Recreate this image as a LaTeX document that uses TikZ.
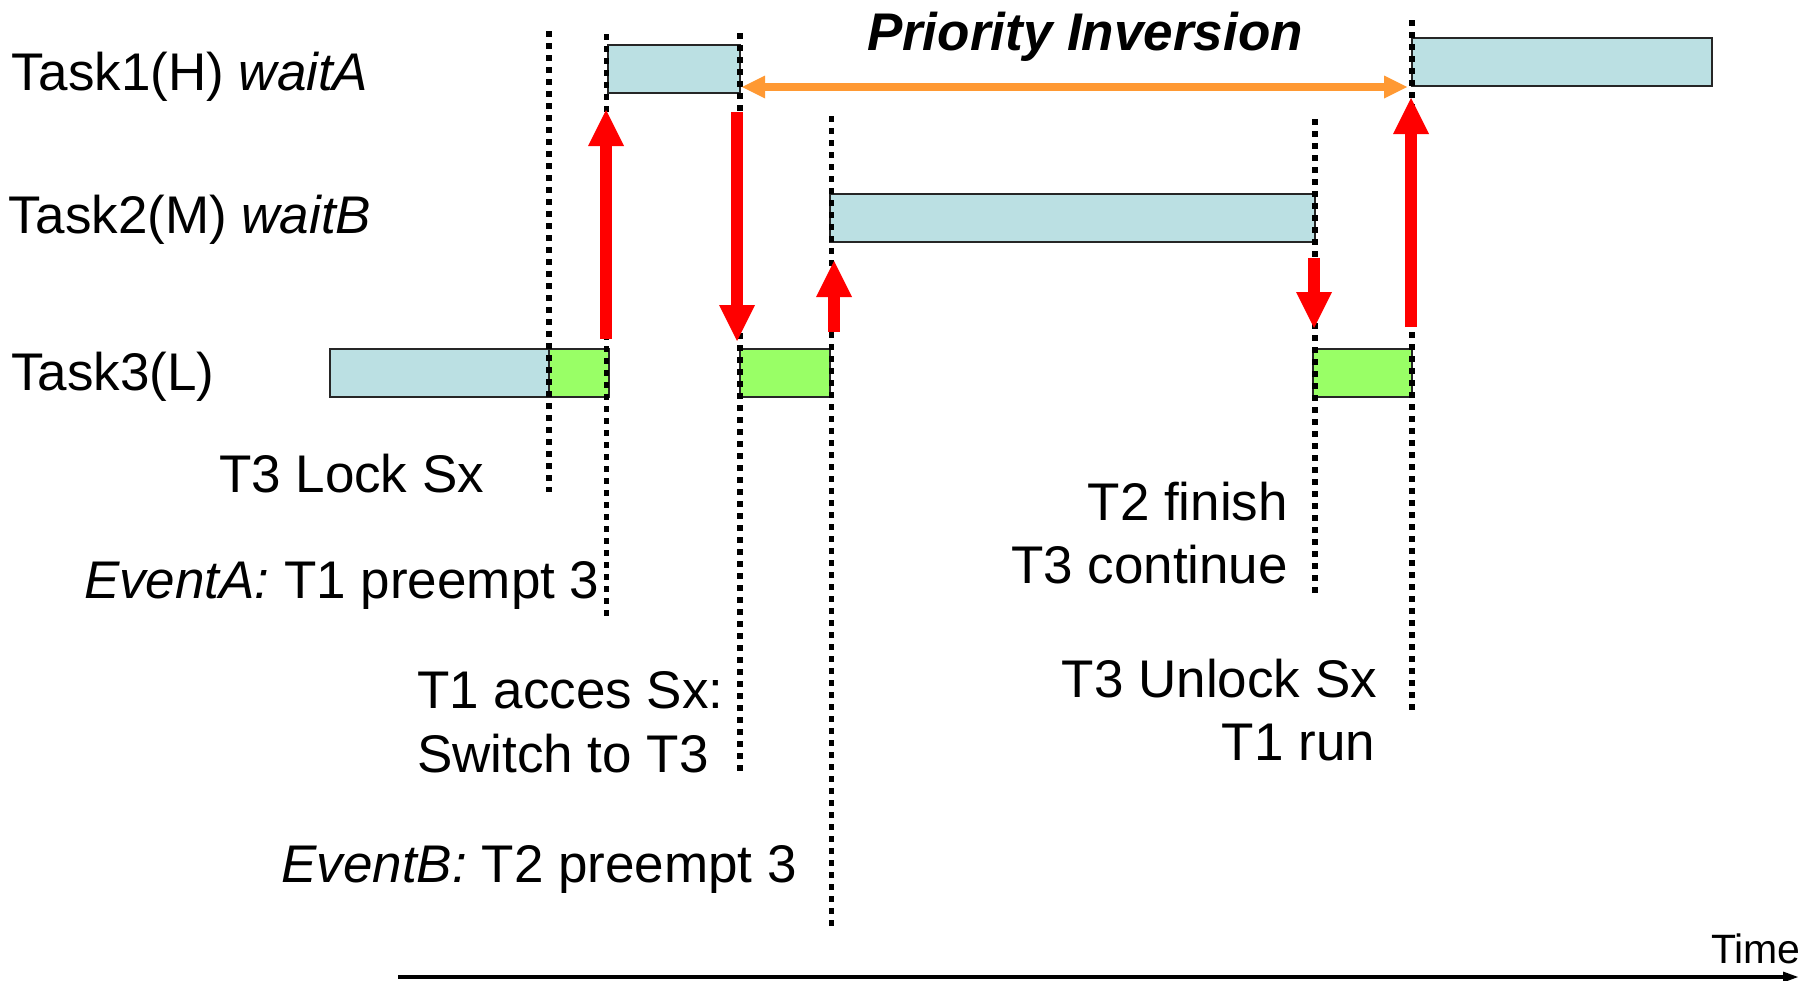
\documentclass[tikz,border=0pt]{standalone}
\usepackage{fontspec}
\setmainfont{Liberation Sans}
\usetikzlibrary{arrows.meta}
\definecolor{taskblue}{RGB}{187,224,227}
\definecolor{lockgreen}{RGB}{153,255,102}
\definecolor{invorange}{RGB}{255,153,51}
\definecolor{switchred}{RGB}{255,0,0}

\begin{document}
\begin{tikzpicture}[x=1pt,y=-1pt,
  slot/.style={draw=black!85, line width=2pt, inner sep=0pt, outer sep=0pt,
    anchor=north west, minimum height=48pt},
  run/.style={slot, fill=taskblue},
  crit/.style={slot, fill=lockgreen},
  evline/.style={line width=5.8pt, dash pattern=on 5.8pt off 6.2pt},
  switch/.style={draw=switchred, line width=12pt,
    -{Triangle[length=36pt,width=36pt,line width=0pt]}},
  inversion/.style={draw=invorange, line width=8pt,
    {Triangle[length=23pt,width=23pt,line width=0pt]}-{Triangle[length=23pt,width=23pt,line width=0pt]}},
  timeaxis/.style={draw=black, line width=4pt,
    -{Triangle[length=15pt,width=11pt,line width=0pt]}},
  lbl/.style={inner sep=0pt, outer sep=0pt, font=\fontsize{53pt}{63pt}\selectfont},
]
\useasboundingbox (0,0) rectangle (1807,980);

% execution slots
\node[run,  minimum width=132pt] (t1a) at (608,45) {};
\node[run,  minimum width=300pt] (t1b) at (1412,38) {};
\node[run,  minimum width=485pt] (t2)  at (830,194) {};
\node[run,  minimum width=219pt] (t3a) at (330,349) {};
\node[crit, minimum width=60pt]  (g1)  at (549,349) {};
\node[crit, minimum width=90pt]  (g2)  at (740,349) {};
\node[crit, minimum width=99pt]  (g3)  at (1313,349) {};

% event instants
\coordinate (l1a) at (549,31);    \coordinate (l1b) at (549,492);
\coordinate (l2a) at (606.5,34);  \coordinate (l2b) at (606.5,620);
\coordinate (l3a) at (740,33);    \coordinate (l3b) at (740,774);
\coordinate (l4a) at (831.5,116); \coordinate (l4b) at (831.5,930);
\coordinate (l5a) at (1315,119);  \coordinate (l5b) at (1315,594);
\coordinate (l6a) at (1412,20);   \coordinate (l6b) at (1412,713);
\foreach \i in {1,...,6} \draw[evline] (l\i a) -- (l\i b);

% context switches
\coordinate (s1a) at (606,339);  \coordinate (s1b) at (606,110);
\coordinate (s2a) at (737,112);  \coordinate (s2b) at (737,341);
\coordinate (s3a) at (834,332);  \coordinate (s3b) at (834,261);
\coordinate (s4a) at (1314,258); \coordinate (s4b) at (1314,328);
\coordinate (s5a) at (1411,327); \coordinate (s5b) at (1411,98);
\foreach \i in {1,...,5} \draw[switch] (s\i a) -- (s\i b);

% priority inversion span
\coordinate (pia) at (742,87);
\coordinate (pib) at (1407,87);
\draw[inversion] (pia) -- (pib);
\node[lbl, anchor=base west, font=\fontsize{53pt}{63pt}\selectfont\bfseries\itshape] (pit) at (867,50) {Priority Inversion};

% time axis
\coordinate (ta) at (398,977);
\coordinate (tb) at (1798,977);
\draw[timeaxis] (ta) -- (tb);
\node[lbl, anchor=base west, font=\fontsize{41pt}{49pt}\selectfont] (time) at (1711,963) {Time};

% task names
\node[lbl, anchor=base west] (n1) at (12,90)  {Task1(H) \textit{waitA}};
\node[lbl, anchor=base west] (n2) at (9,233)  {Task2(M) \textit{waitB}};
\node[lbl, anchor=base west] (n3) at (11,390) {Task3(L)};

% event descriptions
\node[lbl, anchor=base west] (e1)  at (219,492) {T3 Lock Sx};
\node[lbl, anchor=base west] (e2)  at (84,598)  {\textit{EventA:} T1 preempt 3};
\node[lbl, anchor=base west] (e3a) at (417,708) {T1 acces Sx:};
\node[lbl, anchor=base west] (e3b) at (417,772) {Switch to T3};
\node[lbl, anchor=base east] (e4)  at (797,882) {\textit{EventB:} T2 preempt 3};
\node[lbl, anchor=base east] (e5a) at (1288,520) {T2 finish};
\node[lbl, anchor=base east] (e5b) at (1288,583) {T3 continue};
\node[lbl, anchor=base east] (e6a) at (1377,697) {T3 Unlock Sx};
\node[lbl, anchor=base east] (e6b) at (1375,760) {T1 run};
\end{tikzpicture}
\end{document}
